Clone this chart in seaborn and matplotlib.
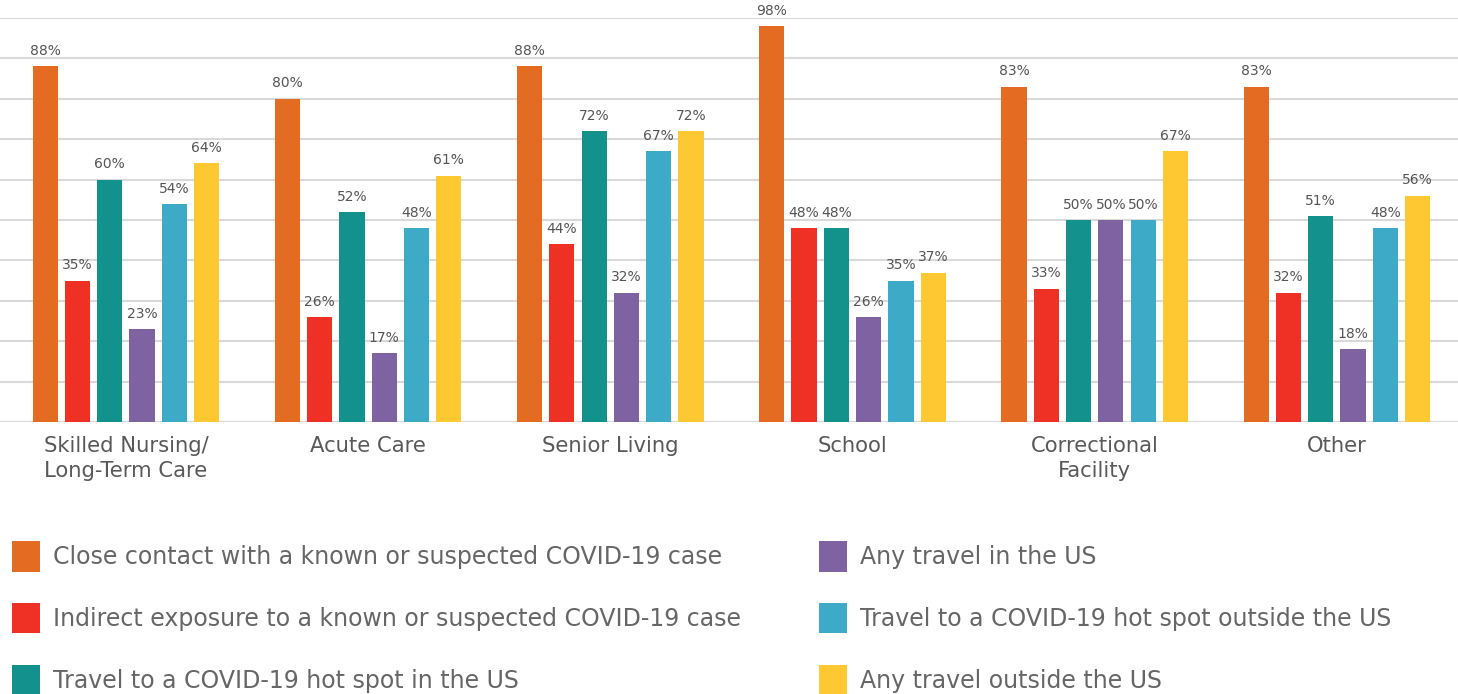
import matplotlib
matplotlib.use("Agg")
import matplotlib.pyplot as plt
import pandas as pd
import seaborn as sns

settings = ["Skilled Nursing/\nLong-Term Care", "Acute Care", "Senior Living",
            "School", "Correctional\nFacility", "Other"]
exposures = [
    "Close contact with a known or suspected COVID-19 case",
    "Indirect exposure to a known or suspected COVID-19 case",
    "Travel to a COVID-19 hot spot in the US",
    "Any travel in the US",
    "Travel to a COVID-19 hot spot outside the US",
    "Any travel outside the US",
]
close_contact = [88, 80, 88, 98, 83, 83]
indirect = [35, 26, 44, 48, 33, 32]
hotspot_us = [60, 52, 72, 48, 50, 51]
travel_us = [23, 17, 32, 26, 50, 18]
hotspot_abroad = [54, 48, 67, 35, 50, 48]
travel_abroad = [64, 61, 72, 37, 67, 56]

colors = ["#E46C22", "#EE3124", "#13918D", "#7E62A1", "#3DAAC8", "#FEC832"]

series = [close_contact, indirect, hotspot_us, travel_us, hotspot_abroad, travel_abroad]
rows = []
for name, vals in zip(exposures, series):
    for s, v in zip(settings, vals):
        rows.append({"setting": s, "exposure": name, "pct": v})
df = pd.DataFrame(rows)

sns.set_style("white")
plt.rcParams["font.family"] = ["DejaVu Sans"]

fig = plt.figure(figsize=(14.58, 6.94), dpi=100)
ax = fig.add_axes([0.0, 1 - 422 / 694, 1.0, (422 - 18) / 694])

sns.barplot(data=df, x="setting", y="pct", hue="exposure", order=settings,
            hue_order=exposures, palette=colors, width=0.8, gap=0.22,
            saturation=1, linewidth=0, ax=ax)

for cont in ax.containers:
    ax.bar_label(cont, labels=[f"{int(v)}%" for v in cont.datavalues],
                 padding=6, fontsize=10, color="#555555")

ax.set_xlim(-0.52, 5.5)
ax.set_ylim(0, 100)
ax.set_yticks(range(0, 101, 10))
ax.set_yticklabels([])
ax.yaxis.grid(True, color="#d9d9d9", linewidth=1.5)
ax.set_axisbelow(True)
for sp in ax.spines.values():
    sp.set_visible(False)
ax.axhline(0, color="#cfcfcf", linewidth=1.5, zorder=0)
ax.tick_params(axis="both", length=0)
ax.tick_params(axis="x", pad=10, labelsize=15.2, labelcolor="#595959")
for t in ax.get_xticklabels():
    t.set_linespacing(1.35)
ax.set_xlabel("")
ax.set_ylabel("")

handles, labels = ax.get_legend_handles_labels()
ax.get_legend().remove()
fig.legend(handles, labels, loc="upper left", ncol=2,
           bbox_to_anchor=(12 / 1458, 1 - 541 / 694), frameon=False,
           fontsize=17.0, labelcolor="#666666", handlelength=1.18,
           handleheight=1.62, handletextpad=0.55, labelspacing=1.32,
           columnspacing=3.3, borderpad=0, borderaxespad=0)

fig.savefig("out.png", dpi=100)
